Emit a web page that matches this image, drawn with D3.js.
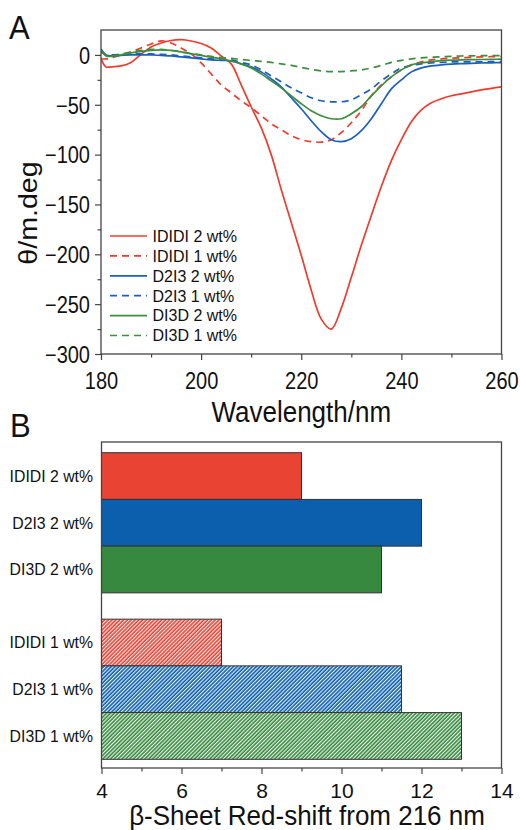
<!DOCTYPE html>
<html><head><meta charset="utf-8">
<script src="https://cdn.jsdelivr.net/npm/d3@7"></script>
<style>
body{margin:0;background:#fff;}
svg{display:block;font-family:"Liberation Sans",Arial,sans-serif;}
</style></head>
<body><svg id="chart" width="520" height="830"></svg>
<script>
// ---------- Panel A data ----------
const wavelength = [180,181,182,184,186,188,190,192,194,196,198,200,202,204,206,208,210,212,214,216,218,220,222,224,226,228,230,232,234,236,238,240,242,244,246,248,250,252,254,256,258,260];
const ididi2 = [-4,-12,-12,-11,-7.5,0.5,8,12,14.5,15.3,14,11.5,7,-1,-9,-30,-52,-73,-100,-135,-168,-201,-236,-265,-275,-254,-223,-191,-161,-132,-106,-85,-67,-55,-48,-44,-41,-39,-37,-35,-33.5,-32];
const ididi1 = [-4,-4,-3,0,3,7,11,14,12,7,1,-8,-19,-30,-38,-46,-53,-61,-69,-75,-81,-85,-87,-87.5,-85,-78,-68,-56,-41,-30,-22,-15,-10,-7,-5,-4,-3.3,-2.8,-2.4,-2,-1.8,-1.6];
const d2i3_2 = [6,0,-1,-0.5,0,0,0,-0.5,-1,-2,-3,-4,-5,-5.5,-6,-9,-12,-17,-24,-32,-43,-54,-66,-77,-85,-87,-84,-76,-64,-49,-34,-25,-17,-13,-11,-10,-9.3,-8.8,-8.4,-8.1,-7.9,-7.7];
const d2i3_1 = [4,0,0,0.5,1,1,1,0.5,0,-1,-2,-3,-4,-4.5,-5,-7.5,-10,-15,-21,-27,-33,-38,-43,-46,-47,-47,-45,-40,-34,-26,-19,-13,-10.5,-9,-8,-7.5,-7,-7,-7,-7,-6.8,-6.8];
const di3d_2 = [5,-1,-1.5,0,2,3.5,4.5,5,4.5,3,1,-0.5,-2.3,-4,-6,-9,-13,-19,-26,-33,-41,-49,-56,-61,-64,-64,-59,-52,-41,-31,-22,-15,-10,-8,-6.7,-5.8,-5.3,-5,-4.8,-4.6,-4.4,-4.3];
const di3d_1 = [3,0,-1,1,3,4.5,5.5,5.5,4.5,3,1.5,0,-1.5,-2.7,-3.5,-4.5,-5.5,-6.5,-7.5,-9,-10.5,-12.5,-14.5,-16,-16.7,-16.7,-16,-15,-13,-10.5,-7.5,-5.5,-4,-3,-2.3,-1.8,-1.4,-1.1,-0.9,-0.8,-0.7,-0.6];
const seriesNames = ["IDIDI 2 wt%","IDIDI 1 wt%","D2I3 2 wt%","D2I3 1 wt%","DI3D 2 wt%","DI3D 1 wt%"];
const seriesValues = [ididi2, ididi1, d2i3_2, d2i3_1, di3d_2, di3d_1];
const seriesColors = ["#f23b2c","#f23b2c","#1c5fc2","#1c5fc2","#3c8f3c","#3c8f3c"];
const seriesDashed = [false,true,false,true,false,true];
const xTicksA = [180,200,220,240,260];
const xMinorA = [190,210,230,250];
const yTicksA = [0,-50,-100,-150,-200,-250,-300];
const yMinorA = [-25,-75,-125,-175,-225,-275];

// ---------- Panel B data ----------
const barLabels = ["IDIDI 2 wt%","D2I3 2 wt%","DI3D 2 wt%","IDIDI 1 wt%","D2I3 1 wt%","DI3D 1 wt%"];
const barValues = [9,12,11,7,11.5,13];
const barColors = ["#e94334","#0b5fad","#37893f","#e94334","#0b5fad","#37893f"];
const barHatched = [false,false,false,true,true,true];
const xTicksB = [4,6,8,10,12,14];
const xMinorB = [5,7,9,11,13];

const svg = d3.select("#chart");
const frameColor = "#444";
const STRETCH = 1.15;

function addText(x,y,str,size,anchor,rot,sy){
  const s = sy||1;
  return svg.append("text")
    .attr("transform",`translate(${x},${y})${rot?` rotate(${rot})`:""} scale(${rot?s:1},${rot?1:s})`)
    .attr("text-anchor",anchor||"start").attr("font-size",size).attr("fill","#111").text(str);
}

// ================= Panel A =================
const A = {l:101, r:501.5, t:30, b:354};
const xA = d3.scaleLinear().domain([180,260]).range([A.l,A.r]);
const yA = d3.scaleLinear().domain([-300,25]).range([A.b,A.t]);

addText(9,39,"A",31,"start",0,1.05);

const gA = svg.append("g");
gA.append("defs").append("clipPath").attr("id","clipA")
  .append("rect").attr("x",A.l).attr("y",A.t).attr("width",A.r-A.l).attr("height",A.b-A.t);

const line = d3.line().x((d,i)=>xA(wavelength[i])).y(d=>yA(d)).curve(d3.curveCatmullRom.alpha(0.5));
seriesValues.forEach((vals,k)=>{
  gA.append("path").attr("clip-path","url(#clipA)")
    .attr("d",line(vals)).attr("fill","none")
    .attr("stroke",seriesColors[k]).attr("stroke-width",1.7)
    .attr("stroke-dasharray",seriesDashed[k]?"7,5":null);
});

gA.append("rect").attr("x",A.l).attr("y",A.t).attr("width",A.r-A.l).attr("height",A.b-A.t)
  .attr("fill","none").attr("stroke",frameColor).attr("stroke-width",1.3);

function styleAxis(g){
  g.select(".domain").remove();
  g.selectAll(".tick line").attr("stroke",frameColor).attr("stroke-width",1.2);
  g.selectAll(".tick text").attr("fill","#111").attr("font-family","Liberation Sans, Arial, sans-serif");
}
const xAxA = gA.append("g").attr("transform",`translate(0,${A.b})`)
  .call(d3.axisBottom(xA).tickValues(xTicksA).tickSize(6).tickFormat(d3.format("d")));
styleAxis(xAxA);
xAxA.selectAll(".tick text").attr("font-size",20).attr("y",null).attr("dy",null)
  .attr("transform",`translate(0,35) scale(1,${STRETCH})`);
const xAxAm = gA.append("g").attr("transform",`translate(0,${A.b})`)
  .call(d3.axisBottom(xA).tickValues(xMinorA).tickSize(3.5).tickFormat(""));
styleAxis(xAxAm);
const yAxA = gA.append("g").attr("transform",`translate(${A.l},0)`)
  .call(d3.axisLeft(yA).tickValues(yTicksA).tickSize(6).tickFormat(d3.format("d")));
styleAxis(yAxA);
yAxA.selectAll(".tick text").attr("font-size",20).attr("x",null).attr("dy",null)
  .attr("transform",`translate(-11,${0.358*20*STRETCH}) scale(1,${STRETCH})`);
const yAxAm = gA.append("g").attr("transform",`translate(${A.l},0)`)
  .call(d3.axisLeft(yA).tickValues(yMinorA).tickSize(3.5).tickFormat(""));
styleAxis(yAxAm);

addText((A.l+A.r)/2,422,"Wavelength/nm",26,"middle",0,1.1);
addText(37,213,"θ/m.deg",26,"middle",-90,1.1);

// legend
const legY = d3.scalePoint().domain(seriesNames).range([236,335.5]);
const leg = gA.append("g");
seriesNames.forEach((n,k)=>{
  const y = legY(n);
  leg.append("line").attr("x1",110).attr("x2",147).attr("y1",y).attr("y2",y)
    .attr("stroke",seriesColors[k]).attr("stroke-width",1.7)
    .attr("stroke-dasharray",seriesDashed[k]?"7,5":null);
  leg.append("text").attr("x",152.5).attr("y",y+5.8).attr("font-size",16).attr("fill","#111").text(n);
});

// ================= Panel B =================
const B = {l:101.5, r:501.5, t:442, b:768};
const xB = d3.scaleLinear().domain([4,14]).range([B.l,B.r]);
const groupGap = 26.3;
const yB = d3.scaleBand().domain(barLabels).range([452.7, 759.3-groupGap]).paddingInner(0).paddingOuter(0);
const yPos = (lab,i)=> yB(lab) + (i>=3?groupGap:0);

addText(10,437,"B",31,"start",0,1.05);

const defs = svg.append("defs");
barColors.forEach((c,i)=>{
  if(!barHatched[i]) return;
  const p = defs.append("pattern").attr("id","hatch"+i).attr("patternUnits","userSpaceOnUse")
    .attr("width",2.7).attr("height",2.7).attr("patternTransform","rotate(45)");
  p.append("rect").attr("width",2.7).attr("height",2.7).attr("fill",c);
  p.append("line").attr("x1",0.6).attr("y1",0).attr("x2",0.6).attr("y2",2.7)
    .attr("stroke","#fff").attr("stroke-width",1.0);
});

const gB = svg.append("g");
gB.selectAll("rect.bar").data(barValues).join("rect").attr("class","bar")
  .attr("x",xB(4)).attr("y",(d,i)=>yPos(barLabels[i],i))
  .attr("width",d=>xB(d)-xB(4)).attr("height",yB.bandwidth())
  .attr("fill",(d,i)=>barHatched[i]?`url(#hatch${i})`:barColors[i])
  .attr("stroke","#333").attr("stroke-width",1);

gB.selectAll("text.lab").data(barLabels).join("text").attr("class","lab")
  .attr("x",93).attr("y",(d,i)=>yPos(d,i)+yB.bandwidth()/2+5.8)
  .attr("text-anchor","end").attr("font-size",15.8).attr("fill","#111").text(d=>d);

gB.append("rect").attr("x",B.l).attr("y",B.t).attr("width",B.r-B.l).attr("height",B.b-B.t)
  .attr("fill","none").attr("stroke",frameColor).attr("stroke-width",1.3);

const xAxB = gB.append("g").attr("transform",`translate(0,${B.b})`)
  .call(d3.axisBottom(xB).tickValues(xTicksB).tickSize(6).tickPadding(9).tickFormat(d3.format("d")));
styleAxis(xAxB); xAxB.selectAll(".tick text").attr("font-size",21);
const xAxBm = gB.append("g").attr("transform",`translate(0,${B.b})`)
  .call(d3.axisBottom(xB).tickValues(xMinorB).tickSize(3.5).tickFormat(""));
styleAxis(xAxBm);

addText(307,825,"β-Sheet Red-shift from 216 nm",26,"middle",0,1.05);
</script></body></html>
